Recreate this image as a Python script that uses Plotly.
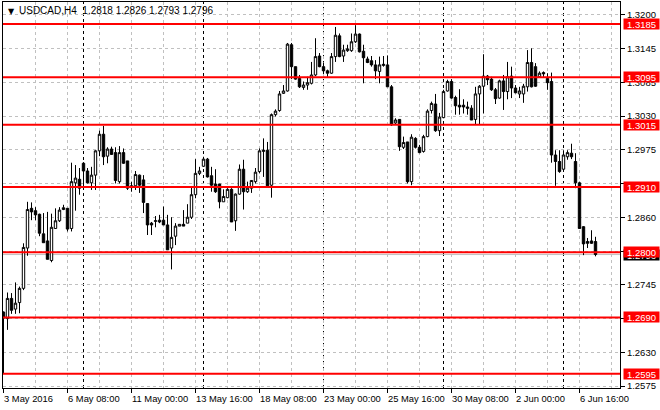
import plotly.graph_objects as go

# ---- data (USDCAD H4) ----
opens = [1.2699,1.2688,1.2722,1.2704,1.2715,1.2739,1.2807,1.2874,1.2870,1.2864,
         1.2831,1.2819,1.2786,1.2840,1.2853,1.2872,1.2874,1.2840,1.2917,1.2923,
         1.2950,1.2937,1.2917,1.2930,1.2971,1.2999,1.2962,1.2974,1.2968,1.2919,
         1.2968,1.2954,1.2912,1.2912,1.2930,1.2922,1.2882,1.2849,1.2852,1.2854,
         1.2854,1.2846,1.2807,1.2827,1.2844,1.2847,1.2849,1.2859,1.2897,1.2933,
         1.2945,1.2957,1.2929,1.2915,1.2915,1.2885,1.2892,1.2906,1.2853,1.2898,
         1.2940,1.2902,1.2908,1.2919,1.2936,1.2970,1.2972,1.2913,1.3032,1.3039,
         1.3068,1.3072,1.3150,1.3113,1.3093,1.3078,1.3082,1.3085,1.3099,1.3131,
         1.3113,1.3106,1.3102,1.3130,1.3165,1.3131,1.3140,1.3140,1.3155,1.3168,
         1.3139,1.3126,1.3123,1.3116,1.3105,1.3115,1.3116,1.3079,1.3018,1.3024,
         1.2977,1.2986,1.2919,1.2992,1.2977,1.2970,1.2995,1.3039,1.3050,1.3005,
         1.3027,1.3072,1.3088,1.3061,1.3048,1.3048,1.3045,1.3043,1.3024,1.3067,
         1.3080,1.3097,1.3092,1.3074,1.3060,1.3089,1.3071,1.3097,1.3077,1.3067,
         1.3067,1.3079,1.3120,1.3113,1.3096,1.3103,1.3093,1.3088,1.2964,1.2953,
         1.2940,1.2961,1.2967,1.2953,1.2917,1.2843,1.2818,1.2819,1.2818]
highs = [1.2700,1.2732,1.2731,1.2749,1.2742,1.2815,1.2885,1.2884,1.2876,1.2865,
         1.2866,1.2868,1.2865,1.2874,1.2876,1.2880,1.2874,1.2951,1.2947,1.2942,
         1.2952,1.2942,1.2944,1.2972,1.3005,1.3013,1.2977,1.2978,1.2977,1.2979,
         1.2975,1.2954,1.2919,1.2937,1.2931,1.2930,1.2882,1.2851,1.2861,1.2863,
         1.2877,1.2863,1.2859,1.2849,1.2847,1.2871,1.2881,1.2910,1.2957,1.2944,
         1.2961,1.2959,1.2944,1.2940,1.2915,1.2906,1.2908,1.2908,1.2899,1.2948,
         1.2956,1.2919,1.2921,1.2942,1.2975,1.2992,1.2986,1.3034,1.3041,1.3072,
         1.3082,1.3153,1.3153,1.3113,1.3099,1.3088,1.3096,1.3121,1.3161,1.3136,
         1.3120,1.3108,1.3136,1.3180,1.3169,1.3150,1.3150,1.3169,1.3183,1.3169,
         1.3150,1.3130,1.3131,1.3124,1.3130,1.3131,1.3132,1.3082,1.3026,1.3024,
         1.2995,1.2986,1.2999,1.2994,1.2981,1.2998,1.3041,1.3054,1.3067,1.3035,
         1.3074,1.3091,1.3092,1.3064,1.3075,1.3058,1.3054,1.3048,1.3079,1.3082,
         1.3134,1.3099,1.3096,1.3077,1.3091,1.3099,1.3121,1.3113,1.3082,1.3079,
         1.3084,1.3141,1.3144,1.3119,1.3105,1.3105,1.3102,1.3103,1.2972,1.2972,
         1.2972,1.2972,1.2983,1.2967,1.2919,1.2844,1.2824,1.2837,1.2826]
lows = [1.2596,1.2669,1.2696,1.2696,1.2697,1.2736,1.2794,1.2854,1.2854,1.2827,
        1.2816,1.2788,1.2783,1.2840,1.2851,1.2871,1.2835,1.2835,1.2870,1.2897,
        1.2908,1.2916,1.2905,1.2905,1.2962,1.2947,1.2950,1.2964,1.2916,1.2916,
        1.2949,1.2905,1.2902,1.2905,1.2900,1.2866,1.2829,1.2829,1.2842,1.2849,
        1.2846,1.2804,1.2771,1.2812,1.2844,1.2844,1.2849,1.2856,1.2891,1.2930,
        1.2944,1.2926,1.2902,1.2900,1.2874,1.2885,1.2891,1.2851,1.2836,1.2897,
        1.2872,1.2900,1.2900,1.2916,1.2933,1.2927,1.2912,1.2892,1.3029,1.3037,
        1.3067,1.3071,1.3092,1.3091,1.3077,1.3074,1.3074,1.3083,1.3097,1.3112,
        1.3102,1.3096,1.3101,1.3121,1.3129,1.3121,1.3138,1.3138,1.3153,1.3137,
        1.3085,1.3119,1.3113,1.3092,1.3085,1.3113,1.3079,1.3013,1.3015,1.2971,
        1.2974,1.2916,1.2913,1.2975,1.2967,1.2968,1.2994,1.3034,1.3003,1.2996,
        1.3026,1.3071,1.3059,1.3032,1.3032,1.3034,1.3032,1.3023,1.3016,1.3016,
        1.3034,1.3082,1.3072,1.3050,1.3059,1.3040,1.3058,1.3060,1.3068,1.3060,
        1.3052,1.3071,1.3078,1.3079,1.3094,1.3094,1.3074,1.2951,1.2912,1.2934,
        1.2936,1.2956,1.2957,1.2908,1.2840,1.2795,1.2807,1.2814,1.2793]
closes = [1.2689,1.2722,1.2702,1.2714,1.2739,1.2808,1.2872,1.2868,1.2863,1.2832,
          1.2816,1.2788,1.2842,1.2853,1.2871,1.2875,1.2839,1.2919,1.2925,1.2908,
          1.2937,1.2917,1.2930,1.2971,1.2999,1.2961,1.2974,1.2965,1.2921,1.2968,
          1.2950,1.2908,1.2909,1.2931,1.2913,1.2884,1.2846,1.2846,1.2853,1.2851,
          1.2846,1.2804,1.2825,1.2844,1.2847,1.2844,1.2859,1.2897,1.2933,1.2937,
          1.2957,1.2927,1.2913,1.2902,1.2885,1.2894,1.2906,1.2851,1.2898,1.2940,
          1.2902,1.2908,1.2921,1.2935,1.2971,1.2972,1.2912,1.3032,1.3038,1.3067,
          1.3072,1.3151,1.3113,1.3092,1.3079,1.3082,1.3086,1.3099,1.3130,1.3113,
          1.3106,1.3102,1.3130,1.3166,1.3130,1.3141,1.3143,1.3155,1.3168,1.3138,
          1.3128,1.3120,1.3116,1.3106,1.3116,1.3117,1.3079,1.3015,1.3023,1.2978,
          1.2985,1.2919,1.2994,1.2977,1.2968,1.2995,1.3038,1.3051,1.3005,1.3028,
          1.3071,1.3088,1.3060,1.3047,1.3045,1.3045,1.3043,1.3023,1.3067,1.3080,
          1.3097,1.3091,1.3074,1.3059,1.3089,1.3071,1.3096,1.3077,1.3069,1.3072,
          1.3080,1.3120,1.3079,1.3080,1.3102,1.3101,1.3086,1.2964,1.2953,1.2936,
          1.2964,1.2968,1.2961,1.2917,1.2840,1.2814,1.2815,1.2815,1.2796]
bars = list(range(len(opens)))

symbol = "USDCAD,H4"
time_tick_bars = [0, 16, 32, 48, 64, 80, 96, 112, 128, 144]
time_tick_labels = ["3 May 2016", "6 May 08:00", "11 May 00:00", "13 May 16:00",
                    "18 May 08:00", "23 May 00:00", "25 May 16:00", "30 May 08:00",
                    "2 Jun 00:00", "6 Jun 16:00"]
grid_minor_bars = [8, 24, 40, 56, 72, 88, 104, 120, 136, 152]
week_start_bars = [20, 50, 80, 110, 140]
levels = [1.3185, 1.3095, 1.3015, 1.2910, 1.2800, 1.2690, 1.2595]
price_ticks = [1.32002, 1.31433, 1.30864, 1.30295, 1.29725, 1.29156,
               1.28587, 1.28018, 1.27449, 1.26880, 1.26311, 1.25742]
price_tick_text = ["1.3200", "1.3145", "1.3085", "1.3030", "1.2975", "",
                   "1.2860", "", "1.2745", "1.2685", "1.2630", "1.2575"]
bid = closes[-1]

FONT = "Liberation Sans, Arial, sans-serif"
GRID = "#c0c0c0"

fig = go.Figure()
fig.add_trace(go.Candlestick(
    x=bars, open=opens, high=highs, low=lows, close=closes,
    increasing=dict(line=dict(color="black", width=1), fillcolor="white"),
    decreasing=dict(line=dict(color="black", width=1), fillcolor="black"),
    whiskerwidth=0, hoverinfo="skip", showlegend=False))

shapes = []
for w in week_start_bars:
    shapes.append(dict(type="line", xref="x", yref="paper", x0=w, x1=w, y0=0, y1=1,
                       line=dict(color="black", width=1, dash="3px,3px"), layer="between"))
shapes.append(dict(type="line", xref="paper", yref="y", x0=0, x1=1, y0=bid, y1=bid,
                   line=dict(color=GRID, width=1), layer="between"))
for lv in levels:
    shapes.append(dict(type="line", xref="paper", yref="y", x0=0, x1=1, y0=lv, y1=lv,
                       line=dict(color="#ff0000", width=2), layer="above"))

ann = []
for b, t in zip(time_tick_bars, time_tick_labels):
    ann.append(dict(x=b, xref="x", y=0, yref="paper", text=t, showarrow=False,
                    xanchor="left", yanchor="top", xshift=-2, yshift=-3,
                    font=dict(family=FONT, size=9.4, color="black")))
# bid label (under level labels)
ann.append(dict(x=1, xref="paper", y=bid, yref="y", text=f"{bid:.4f}", showarrow=False,
                xanchor="left", yanchor="middle", xshift=3, bgcolor="black",
                width=33, height=8, borderpad=1,
                font=dict(family=FONT, size=9.5, color="white")))
for lv in levels:
    ann.append(dict(x=1, xref="paper", y=lv, yref="y", text=f"{lv:.4f}", showarrow=False,
                    xanchor="left", yanchor="middle", xshift=3, bgcolor="#ff0000",
                    width=33, height=8, borderpad=1,
                    font=dict(family=FONT, size=9.5, color="white")))
ann.append(dict(x=0, xref="paper", y=1, yref="paper", text="\u25bc", showarrow=False,
                xanchor="left", yanchor="top", xshift=3, yshift=-3,
                font=dict(family="DejaVu Sans", size=8, color="black")))
header = (f"{symbol}\u00a0\u00a0{opens[-1]:.4f} {highs[-1]:.4f} "
          f"{lows[-1]:.4f} {closes[-1]:.4f}")
ann.append(dict(x=0, xref="paper", y=1, yref="paper", text=header, showarrow=False,
                xanchor="left", yanchor="top", xshift=14, yshift=-1,
                font=dict(family=FONT, size=10, color="black")))

fig.update_layout(
    width=660, height=410,
    margin=dict(l=3, r=40, t=2, b=22),
    paper_bgcolor="white", plot_bgcolor="white",
    showlegend=False, shapes=shapes, annotations=ann,
    boxgap=0.15,
    xaxis=dict(range=[-0.125, 154.125], showline=True, mirror=True, linecolor="black",
               linewidth=1, ticks="outside", ticklen=4, tickcolor="black",
               tickvals=time_tick_bars, showticklabels=False,
               showgrid=True, gridcolor=GRID, gridwidth=1, griddash="3px,3px",
               minor=dict(tickvals=grid_minor_bars, showgrid=True, gridcolor=GRID,
                          griddash="3px,3px", ticks=""),
               zeroline=False, rangeslider=dict(visible=False)),
    yaxis=dict(side="right", range=[1.257087, 1.322211], showline=True, mirror=True,
               linecolor="black", linewidth=1, ticks="outside", ticklen=4,
               tickcolor="black", tickvals=price_ticks, ticktext=price_tick_text,
               tickfont=dict(family=FONT, size=9.5, color="black"),
               showgrid=True, gridcolor=GRID, gridwidth=1, griddash="3px,3px",
               zeroline=False),
)

fig.write_html("out.html", config={"displayModeBar": False},
               post_script="document.body.style.margin='0';document.body.style.padding='0';")
